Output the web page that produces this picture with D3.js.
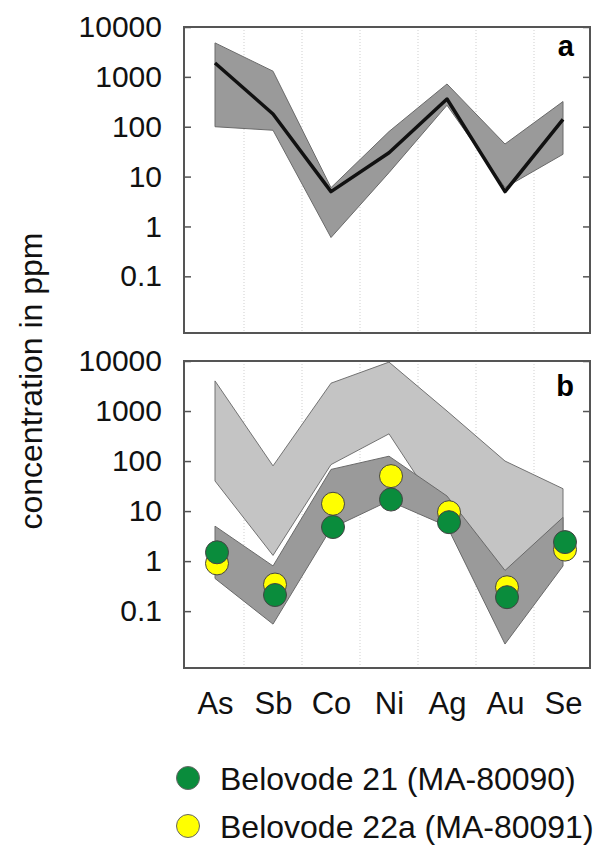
<!DOCTYPE html>
<html>
<head>
<meta charset="utf-8">
<script src="https://cdn.jsdelivr.net/npm/d3@7"></script>
<style>
  body { margin: 0; background: #fff; }
  text { font-family: "Liberation Sans", Arial, sans-serif; }
</style>
</head>
<body>
<script>
// elements on the x axis
var elements = ["As", "Sb", "Co", "Ni", "Ag", "Au", "Se"];

// panel a: range band and mean line (ppm)
var aUpper = [4800, 1300, 6, 80, 720, 45, 320];
var aLower = [100, 85, 0.6, 12, 270, 6, 28];
var aMean = [1900, 180, 5, 30, 360, 5, 140];

// panel b: light band, dark band and two samples (ppm)
var bLightUpper = [4000, 80, 3600, 9500, 1000, 100, 28];
var bLightLower = [40, 1.3, 85, 350, 6, 0.3, 2];
var bDarkUpper = [5, 0.8, 68, 125, 20, 0.65, 7.5];
var bDarkLower = [0.45, 0.055, 4.5, 16, 5, 0.022, 0.8];
var belovode21 = [1.5, 0.21, 4.8, 17, 6, 0.19, 2.4];
var belovode22a = [0.9, 0.34, 14, 50, 9.5, 0.30, 1.7];

var yTicks = [10000, 1000, 100, 10, 1, 0.1];
var yTickLabels = ["10000", "1000", "100", "10", "1", "0.1"];

var legendNames = ["Belovode 21 (MA-80090)", "Belovode 22a (MA-80091)"];
var green = "#0a8c3c", yellow = "#ffff00";

var width = 600, height = 845;
var left = 184, right = 590;

var svg = d3.select("body").append("svg")
  .attr("width", width)
  .attr("height", height);

var x = d3.scalePoint()
  .domain(elements)
  .range([215, 563]);

function band(upper, lower) {
  // polygon: along the upper values, back along the lower values
  var pts = elements.map(function(e, i) { return [e, upper[i]]; });
  var back = elements.map(function(e, i) { return [e, lower[i]]; }).reverse();
  return pts.concat(back);
}

function drawPanel(top, bottom, labelText, labelDy) {
  var y = d3.scaleLog()
    .domain([0.0073, 10000])
    .range([bottom, top]);

  var g = svg.append("g");

  // dotted vertical separators between elements
  var step = x.step();
  g.selectAll(".grid")
    .data(elements.slice(1))
    .enter().append("line")
    .attr("x1", function(d) { return x(d) - step / 2; })
    .attr("x2", function(d) { return x(d) - step / 2; })
    .attr("y1", top)
    .attr("y2", bottom)
    .attr("stroke", "#cfcfcf")
    .attr("stroke-width", 1)
    .attr("stroke-dasharray", "1,2");

  var axL = g.append("g")
    .attr("transform", "translate(" + left + ",0)")
    .call(d3.axisLeft(y).tickValues(yTicks)
      .tickFormat(function(d, i) { return yTickLabels[i]; })
      .tickSize(-7).tickPadding(22));
  axL.select(".domain").remove();
  axL.selectAll("line").attr("stroke", "#555").attr("stroke-width", 1.5);
  axL.selectAll("text")
    .attr("font-size", 30)
    .attr("fill", "#111")
    .style("font-family", "'Liberation Sans', Arial, sans-serif");

  var axR = g.append("g")
    .attr("transform", "translate(" + right + ",0)")
    .call(d3.axisRight(y).tickValues(yTicks).tickFormat("").tickSize(-7));
  axR.select(".domain").remove();
  axR.selectAll("line").attr("stroke", "#555").attr("stroke-width", 1.5);

  var line = d3.line()
    .x(function(d) { return x(d[0]); })
    .y(function(d) { return y(d[1]); });

  return { g: g, y: y, line: line, top: top, bottom: bottom, label: labelText, labelDy: labelDy };
}

function finishPanel(p) {
  p.g.append("rect")
    .attr("x", left)
    .attr("y", p.top)
    .attr("width", right - left)
    .attr("height", p.bottom - p.top)
    .attr("fill", "none")
    .attr("stroke", "#555")
    .attr("stroke-width", 2);

  p.g.append("text")
    .attr("x", right - 16)
    .attr("y", p.top + p.labelDy)
    .attr("text-anchor", "end")
    .attr("font-size", 29)
    .attr("font-weight", "bold")
    .text(p.label);
}

// panel a
var pa = drawPanel(27, 333, "a", 29);
pa.g.append("path")
  .attr("d", pa.line(band(aUpper, aLower)) + "Z")
  .attr("fill", "#9a9a9a")
  .attr("stroke", "#6a6a6a")
  .attr("stroke-width", 1);
pa.g.append("path")
  .attr("d", pa.line(elements.map(function(e, i) { return [e, aMean[i]]; })))
  .attr("fill", "none")
  .attr("stroke", "#111")
  .attr("stroke-width", 3.5)
  .attr("stroke-linejoin", "round");
finishPanel(pa);

// panel b
var pb = drawPanel(361, 668, "b", 35);
pb.g.append("path")
  .attr("d", pb.line(band(bLightUpper, bLightLower)) + "Z")
  .attr("fill", "#c4c4c4")
  .attr("stroke", "#727272")
  .attr("stroke-width", 1);
pb.g.append("path")
  .attr("d", pb.line(band(bDarkUpper, bDarkLower)) + "Z")
  .attr("fill", "#9a9a9a")
  .attr("stroke", "#6a6a6a")
  .attr("stroke-width", 1);

var samples = [
  { values: belovode22a, color: yellow },
  { values: belovode21, color: green }
];
samples.forEach(function(s) {
  pb.g.selectAll(null)
    .data(elements)
    .enter().append("circle")
    .attr("cx", function(d) { return x(d) + 2; })
    .attr("cy", function(d, i) { return pb.y(s.values[i]); })
    .attr("r", 11.5)
    .attr("fill", s.color)
    .attr("stroke", "#444")
    .attr("stroke-width", 1);
});
finishPanel(pb);

// element labels under panel b
var axB = svg.append("g")
  .attr("transform", "translate(0,668)")
  .call(d3.axisBottom(x).tickSize(0).tickPadding(24));
axB.select(".domain").remove();
axB.selectAll("text")
  .attr("font-size", 31)
  .attr("fill", "#111")
  .style("font-family", "'Liberation Sans', Arial, sans-serif");

// y axis title
svg.append("text")
  .attr("transform", "translate(42,381) rotate(-90)")
  .attr("text-anchor", "middle")
  .attr("font-size", 32)
  .attr("fill", "#111")
  .text("concentration in ppm");

// legend
var legend = svg.selectAll(".legend")
  .data(legendNames)
  .enter().append("g")
  .attr("transform", function(d, i) { return "translate(188," + (778 + i * 48) + ")"; });
legend.append("circle")
  .attr("r", 11.5)
  .attr("fill", function(d, i) { return i == 0 ? green : yellow; })
  .attr("stroke", "#666")
  .attr("stroke-width", 1);
legend.append("text")
  .attr("x", 32)
  .attr("y", 12)
  .attr("font-size", 32)
  .attr("fill", "#111")
  .text(function(d) { return d; });
</script>
</body>
</html>
